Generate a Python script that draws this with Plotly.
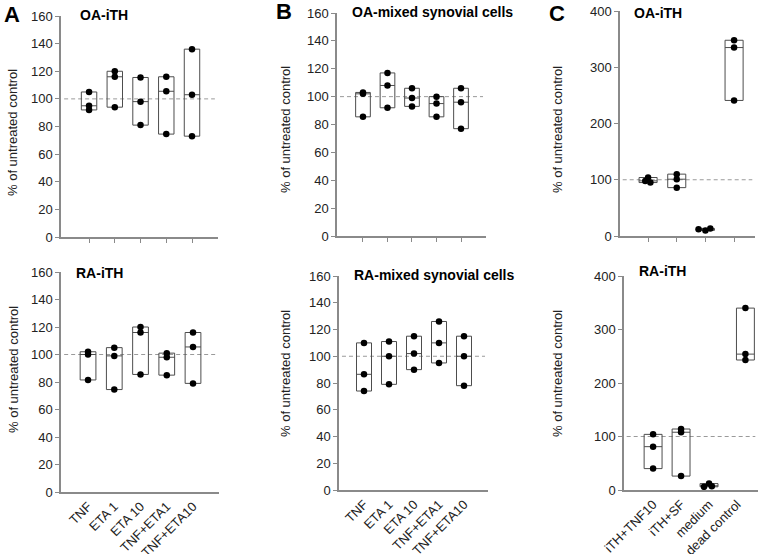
import plotly.graph_objects as go

# ---------------- data ----------------
categories_ab = ["TNF", "ETA 1", "ETA 10", "TNF+ETA1", "TNF+ETA10"]
categories_c = ["iTH+TNF10", "iTH+SF", "medium", "dead control"]

oa_ith = [[105, 95, 92], [120, 116, 94], [115.5, 98, 81], [116, 105.5, 74.5], [136, 103, 73]]
ra_ith = [[102, 100, 81.5], [105, 99, 74.5], [120, 116, 85.5], [101, 98, 85], [116, 105.5, 79]]
oa_mixed = [[103, 102, 85.5], [117, 108, 92], [106, 99, 93], [100, 95, 85.5], [106, 96, 77]]
ra_mixed = [[110, 86.5, 74], [111, 100, 79], [115, 102, 90], [126, 110, 95], [115, 100, 78]]
oa_ith_c = [[98, 104, 95], [110, 101, 86], [12, 10, 13.5], [348, 335, 241]]
ra_ith_c = [[104, 81, 40], [114, 108, 26], [6, 12, 7], [340, 254, 243]]

reference_level = 100

# ---------------- layout helpers ----------------
W, H = 760, 554
FONT = "Liberation Sans, Arial, Helvetica, sans-serif"
AXIS_COLOR = "#8a8a8a"
BOX_COLOR = "#4d4d4d"


def xd(a, b):
    return [a / W, b / W]


def yd(top, bottom):
    return [1 - bottom / H, 1 - top / H]


zero_jit = [[0, 0, 0]] * 5

panels = [
    dict(data=oa_ith, cats=categories_ab, title="OA-iTH", xdom=(61, 218), ydom=(16, 237),
         xr=(-1.09, 5.01), ymax=160, dtick=20, bottom=False, pos=[0, 1, 2, 3, 4],
         jit=zero_jit, bw=0.6, title_xy=(78, 15), ytitle_xy=(13, 133)),
    dict(data=oa_mixed, cats=categories_ab, title="OA-mixed synovial cells", xdom=(337, 486), ydom=(13, 236),
         xr=(-1.06, 5.02), ymax=160, dtick=20, bottom=False, pos=[0, 1, 2, 3, 4],
         jit=zero_jit, bw=0.6, title_xy=(350, 12), ytitle_xy=(285, 130)),
    dict(data=oa_ith_c, cats=categories_c, title="OA-iTH", xdom=(620, 755), ydom=(11, 236),
         xr=(-0.98, 3.73), ymax=400, dtick=100, bottom=False, pos=[0, 1, 2, 3],
         jit=[[-0.1, 0, 0.08], [0, 0, 0], [-0.24, 0, 0.17], [0, 0, 0]], bw=0.63,
         title_xy=(632, 13), ytitle_xy=(557, 130)),
    dict(data=ra_ith, cats=categories_ab, title="RA-iTH", xdom=(61, 219), ydom=(272, 492),
         xr=(-1.03, 4.99), ymax=160, dtick=20, bottom=True, pos=[0, 1, 2, 3, 4],
         jit=zero_jit, bw=0.6, title_xy=(74, 273), ytitle_xy=(13, 370)),
    dict(data=ra_mixed, cats=categories_ab, title="RA-mixed synovial cells", xdom=(339, 488), ydom=(276, 490),
         xr=(-1.0, 4.96), ymax=160, dtick=20, bottom=True, pos=[0, 1, 2, 3, 4],
         jit=zero_jit, bw=0.6, title_xy=(352, 275), ytitle_xy=(285, 374)),
    dict(data=ra_ith_c, cats=categories_c, title="RA-iTH", xdom=(624, 758), ydom=(276, 490),
         xr=(-1.04, 3.75), ymax=400, dtick=100, bottom=True, pos=[0, 1, 2, 3.3],
         jit=[[0, 0, 0], [0, 0, 0], [-0.18, 0, 0.1], [0, 0, 0]], bw=0.64,
         title_xy=(637, 271), ytitle_xy=(557, 374)),
]

fig = go.Figure()
layout = dict(
    width=W, height=H, margin=dict(l=0, r=0, t=0, b=0, autoexpand=False),
    paper_bgcolor="white", plot_bgcolor="white", showlegend=False,
    font=dict(family=FONT, size=13, color="#222222"),
)
annotations = []
shapes = []

for i, p in enumerate(panels, start=1):
    xa = "x" if i == 1 else f"x{i}"
    ya = "y" if i == 1 else f"y{i}"
    bx, by, sx, sy = [], [], [], []
    for ci, vals in enumerate(p["data"]):
        for k, v in enumerate(vals):
            bx.append(p["pos"][ci])
            by.append(v)
            sx.append(p["pos"][ci] + p["jit"][ci][k])
            sy.append(v)
    fig.add_trace(go.Box(
        x=bx, y=by, xaxis=xa, yaxis=ya, boxpoints=False, quartilemethod="exclusive",
        width=p["bw"], fillcolor="rgba(0,0,0,0)", line=dict(color=BOX_COLOR, width=1),
        whiskerwidth=0, hoverinfo="skip",
    ))
    fig.add_trace(go.Scatter(
        x=sx, y=sy, xaxis=xa, yaxis=ya, mode="markers",
        marker=dict(color="black", size=6.5, line=dict(width=0)), hoverinfo="skip",
    ))

    xkey = "xaxis" if i == 1 else f"xaxis{i}"
    ykey = "yaxis" if i == 1 else f"yaxis{i}"
    xaxis = dict(
        domain=xd(*p["xdom"]), range=list(p["xr"]), anchor=ya,
        showline=True, linecolor=AXIS_COLOR, linewidth=1.5,
        showgrid=False, zeroline=False, fixedrange=True, automargin=False,
        tickvals=list(range(len(p["cats"]))),
    )
    if p["bottom"]:
        xaxis.update(ticktext=p["cats"], ticks="", tickangle=-45,
                     tickfont=dict(size=13, color="#222222"))
    else:
        xaxis.update(showticklabels=False, ticks="outside", ticklen=4,
                     tickcolor=AXIS_COLOR, tickwidth=1)
    layout[xkey] = xaxis
    layout[ykey] = dict(
        domain=yd(*p["ydom"]), range=[0, p["ymax"]], anchor=xa, dtick=p["dtick"],
        showline=True, linecolor=AXIS_COLOR, linewidth=1.5,
        ticks="outside", ticklen=4, tickcolor=AXIS_COLOR, tickwidth=1,
        showgrid=False, zeroline=False, fixedrange=True, automargin=False,
        tickfont=dict(size=13, color="#222222"),
    )
    shapes.append(dict(
        type="line", xref=f"{xa} domain", yref=ya, x0=0.02, x1=0.98,
        y0=reference_level, y1=reference_level,
        line=dict(color="#9a9a9a", width=1, dash="4px,3px"), layer="below",
    ))
    tx, ty = p["title_xy"]
    annotations.append(dict(
        text=f"<b>{p['title']}</b>", x=tx / W, y=1 - ty / H, xref="paper", yref="paper",
        xanchor="left", yanchor="middle", showarrow=False,
        font=dict(size=14, color="black", family=FONT),
    ))
    ux, uy = p["ytitle_xy"]
    annotations.append(dict(
        text="% of untreated control", x=ux / W, y=1 - uy / H, xref="paper", yref="paper",
        xanchor="center", yanchor="middle", textangle=-90, showarrow=False,
        font=dict(size=13, color="#222222", family=FONT),
    ))

for letter, lx, ly in [("A", 2, 14), ("B", 274, 12), ("C", 547, 13)]:
    annotations.append(dict(
        text=f"<b>{letter}</b>", x=lx / W, y=1 - ly / H, xref="paper", yref="paper",
        xanchor="left", yanchor="middle", showarrow=False,
        font=dict(size=22, color="black", family=FONT),
    ))

layout["annotations"] = annotations
layout["shapes"] = shapes
fig.update_layout(**layout)
fig.write_html("out.html", config={"displayModeBar": False},
               post_script="document.body.style.margin='0px';")
